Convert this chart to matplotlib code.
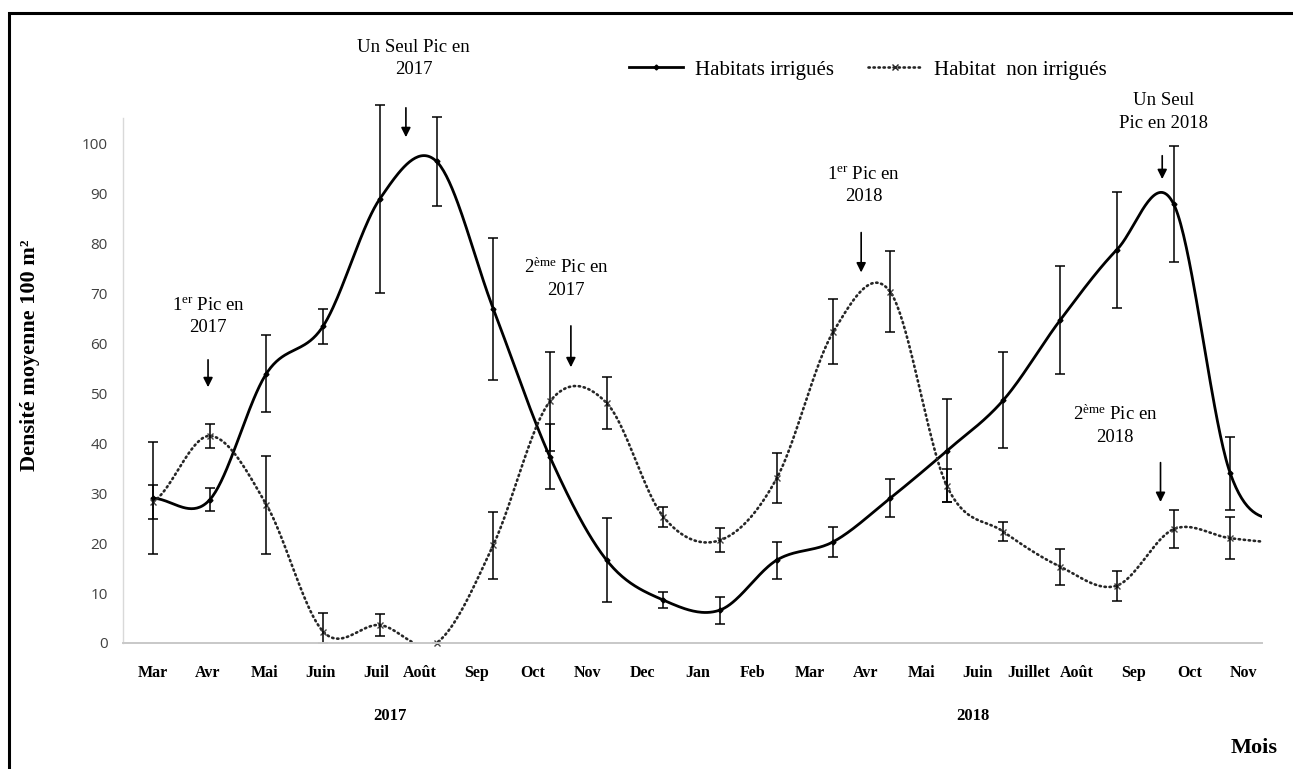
import numpy as np
import matplotlib
matplotlib.use("Agg")
import matplotlib.pyplot as plt
from matplotlib.lines import Line2D
from matplotlib.patches import Rectangle

plt.rcParams['mathtext.fontset'] = 'custom'
plt.rcParams['mathtext.rm'] = 'Liberation Serif'
plt.rcParams['mathtext.it'] = 'Liberation Serif:italic'
plt.rcParams['mathtext.bf'] = 'Liberation Serif:bold'

# Monthly mean density (per 100 m2), Mar 2017 -> Dec 2018 (last point has no error bar)
irrigues = [29, 28.7, 54, 63.5, 89, 96.5, 67, 37.3, 16.6, 8.6, 6.6, 16.6, 20.3, 29,
            38.5, 48.7, 64.7, 78.8, 88, 34, 24]
irrigues_err = [11.2, 2.3, 7.8, 3.5, 18.8, 9, 14.2, 6.5, 8.4, 1.6, 2.7, 3.7, 3, 3.8,
                10.3, 9.7, 10.8, 11.6, 11.6, 7.3, np.nan]
non_irrigues = [28.3, 41.5, 27.7, 2.3, 3.6, 0, 19.6, 48.4, 48.1, 25.3, 20.6, 33, 62.4, 70.4,
                31.5, 22.3, 15.3, 11.5, 22.8, 21, 20]
non_irrigues_err = [3.4, 2.4, 9.8, 3.7, 2.2, 0, 6.7, 9.9, 5.2, 2.0, 2.4, 5, 6.5, 8.1,
                    3.3, 1.9, 3.6, 3, 3.8, 4.2, np.nan]

mois = ['Mar', 'Avr', 'Mai', 'Juin', 'Juil', 'Août', 'Sep', 'Oct', 'Nov', 'Dec', 'Jan', 'Feb',
        'Mar', 'Avr', 'Mai', 'Juin', 'Juillet', 'Août', 'Sep', 'Oct', 'Nov']
mois_pos = [0, 0.97, 1.96, 2.95, 3.93, 4.71, 5.70, 6.70, 7.66, 8.64, 9.60, 10.57,
            11.59, 12.56, 13.55, 14.55, 15.44, 16.29, 17.29, 18.28, 19.23]


def smooth(y, n=40):
    # Catmull-Rom spline through equally spaced points
    y = np.asarray(y, float)
    p = np.concatenate([[y[0]], y, [y[-1]]])
    xs, ys = [], []
    t = np.linspace(0, 1, n, endpoint=False)
    for i in range(len(y) - 1):
        p0, p1, p2, p3 = p[i], p[i + 1], p[i + 2], p[i + 3]
        m1 = (p2 - p0) / 2
        m2 = (p3 - p1) / 2
        h = (2*t**3 - 3*t**2 + 1)*p1 + (t**3 - 2*t**2 + t)*m1 + (-2*t**3 + 3*t**2)*p2 + (t**3 - t**2)*m2
        xs.append(i + t)
        ys.append(h)
    xs.append([len(y) - 1])
    ys.append([y[-1]])
    return np.concatenate(xs), np.concatenate(ys)


fig = plt.figure(figsize=(12.93, 7.69), dpi=100)
ax = fig.add_axes([123/1293, 1 - 643/769, (1262 - 123)/1293, (643 - 118)/769])

x = np.arange(len(irrigues))
dot_style = (0, (0.5, 1.4))

# smooth curves
sx, sy = smooth(irrigues)
ax.plot(sx, sy, color='black', lw=2.0, solid_capstyle='round')
sx, sy = smooth(non_irrigues)
ax.plot(sx, sy, color='#262626', lw=1.9, linestyle=dot_style, dash_capstyle='round')

# error bars (lower part stops at zero) and markers, only for the measured months
for vals, err, mk, ms, col in [(irrigues, irrigues_err, 'D', 2.5, 'black'),
                               (non_irrigues, non_irrigues_err, 'x', 5, '#444444')]:
    v = np.array(vals)
    e = np.array(err)
    ok = ~np.isnan(e)
    ax.plot(x[ok], v[ok], mk, ms=ms, mew=1.0, color=col, clip_on=False)
    low = np.minimum(e[ok], v[ok])
    eb = ax.errorbar(x[ok], v[ok], yerr=[low, e[ok]], fmt='none', ecolor='black',
                     elinewidth=1.1, capsize=3.8, capthick=1.1)
    for art in list(eb.lines[1]) + list(eb.lines[2]):
        art.set_clip_on(False)

ax.set_xlim(-0.53, 19.56)
ax.set_ylim(0, 105.2)
ax.set_yticks(range(0, 101, 10))
ax.set_yticklabels([str(v) for v in range(0, 101, 10)], fontfamily='Open Sans', fontsize=11,
                   color='#404040')
ax.set_xticks(mois_pos)
ax.set_xticklabels(mois, fontfamily='Liberation Serif', fontweight='bold', fontsize=11.5)
ax.tick_params(axis='y', length=0, pad=11)
ax.tick_params(axis='x', length=0, pad=16)

for s in ['top', 'right']:
    ax.spines[s].set_visible(False)
ax.spines['left'].set_color('#d9d9d9')
ax.spines['bottom'].set_color('#c8c8c8')
ax.spines['left'].set_linewidth(1.0)
ax.spines['bottom'].set_linewidth(1.4)

serif = 'Liberation Serif'

# peak annotations
notes = [
    (r'1$^{\mathrm{er}}$ Pic en' + '\n2017', 0.97, 65.5, 0.97, 57.3, 50.7),
    ('Un Seul Pic en\n2017', 4.6, 117.2, 4.46, 107.8, 100.8),
    (r'2$^{\mathrm{ème}}$ Pic en' + '\n2017', 7.29, 73.1, 7.37, 64.1, 54.7),
    (r'1$^{\mathrm{er}}$ Pic en' + '\n2018', 12.54, 91.6, 12.49, 82.8, 73.7),
    ('Un Seul\nPic en 2018', 17.82, 106.4, 17.8, 98.2, 92.4),
    (r'2$^{\mathrm{ème}}$ Pic en' + '\n2018', 16.97, 43.7, 17.77, 36.7, 27.7),
]
for txt, tx, ty, axx, y0, y1 in notes:
    ax.text(tx, ty, txt, ha='center', va='center', fontfamily=serif, fontsize=13.5,
            linespacing=1.4, clip_on=False)
    ax.annotate('', xy=(axx, y1), xytext=(axx, y0),
                arrowprops=dict(arrowstyle='-|>', color='black', lw=1.2, mutation_scale=14),
                annotation_clip=False)

# axis titles
fig.text(30/1293, 1 - 355/769, 'Densité moyenne 100 m²', rotation=90, ha='center', va='center',
         fontfamily=serif, fontweight='bold', fontsize=16)
fig.text(390/1293, 1 - 716/769, '2017', ha='center', va='center', fontfamily=serif,
         fontweight='bold', fontsize=12)
fig.text(973/1293, 1 - 716/769, '2018', ha='center', va='center', fontfamily=serif,
         fontweight='bold', fontsize=12)
fig.text(1254/1293, 1 - 748/769, 'Mois', ha='center', va='center', fontfamily=serif,
         fontweight='bold', fontsize=16)

# legend
handles = [Line2D([0], [0], color='black', lw=2.0, marker='D', ms=2.5),
           Line2D([0], [0], color='#262626', lw=1.9, linestyle=dot_style,
                  dash_capstyle='round', marker='x', ms=4, mew=1.0)]
fig.legend(handles, ['Habitats irrigués', 'Habitat  non irrigués'], loc='center',
           bbox_to_anchor=(868/1293, 1 - 70/769), ncol=2, frameon=False,
           prop={'family': serif, 'size': 15}, handlelength=2.6, columnspacing=1.6,
           handletextpad=0.6)

# outer frame
fig.add_artist(Rectangle((9/1293, -0.1), 1.2, 1.1 - 13/769, transform=fig.transFigure,
                         fill=False, edgecolor='black', lw=2.2))

fig.savefig('out.png', dpi=100, facecolor='white')
